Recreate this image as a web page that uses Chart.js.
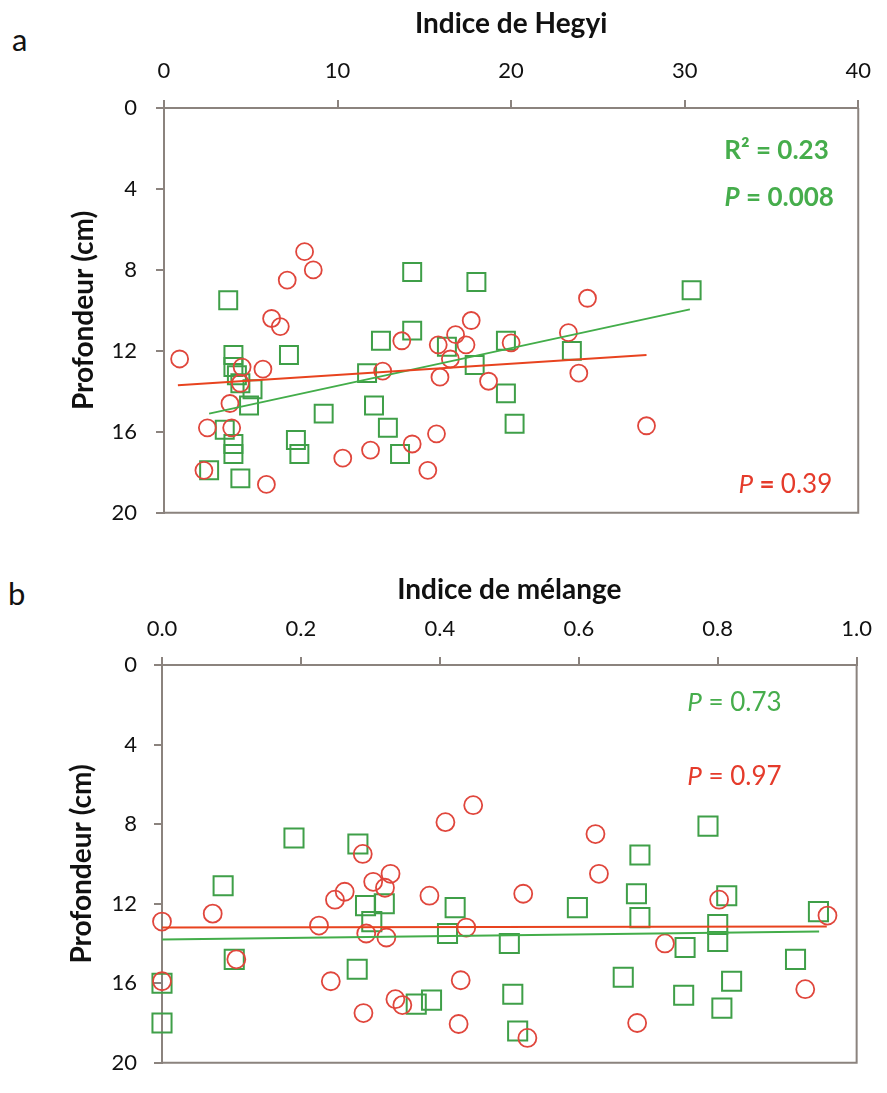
<!DOCTYPE html>
<html>
<head>
<meta charset="utf-8">
<script src="https://cdn.jsdelivr.net/npm/chart.js@4.4.1/dist/chart.umd.min.js"></script>
<style>
body { margin: 0; background: #fff; width: 887px; height: 1093px; position: relative; overflow: hidden; font-family: Lato, sans-serif; }
.panel { position: absolute; left: 0; width: 887px; }
.lbl { position: absolute; font-size: 31px; line-height: 31px; color: #111; }
</style>
</head>
<body>
<div class="lbl" style="left:12px;top:24px">a</div>
<div class="lbl" style="left:8px;top:578px">b</div>
<div class="panel" style="top:0;height:545px"><canvas id="chartA"></canvas></div>
<div class="panel" style="top:550px;height:543px"><canvas id="chartB"></canvas></div>
<script>
// panel a : Indice de Hegyi
var hegyiRedX = [0.9, 2.3, 2.5, 3.8, 3.9, 4.4, 4.5, 5.7, 5.9, 6.2, 6.7, 7.1, 8.1, 8.6, 10.3, 11.9, 12.6, 13.7, 14.3, 15.2, 15.7, 15.8, 15.9, 16.5, 16.8, 17.4, 17.7, 18.7, 20.0, 23.3, 23.9, 24.4, 27.8];
var hegyiRedY = [12.4, 17.9, 15.8, 14.6, 15.8, 13.6, 12.8, 12.9, 18.6, 10.4, 10.8, 8.5, 7.1, 8.0, 17.3, 16.9, 13.0, 11.5, 16.6, 17.9, 16.1, 11.7, 13.3, 12.4, 11.2, 11.7, 10.5, 13.5, 11.6, 11.1, 13.1, 9.4, 15.7];
var hegyiGreenX = [2.6, 3.5, 3.7, 4.0, 4.0, 4.0, 4.0, 4.2, 4.4, 4.4, 5.1, 4.9, 7.2, 7.6, 7.8, 9.2, 11.7, 12.1, 12.5, 12.9, 13.6, 14.3, 14.3, 16.3, 17.9, 18.0, 19.7, 19.7, 20.2, 23.5, 30.4];
var hegyiGreenY = [17.9, 15.9, 9.5, 12.2, 12.8, 16.6, 17.1, 13.2, 13.6, 18.3, 13.9, 14.7, 12.2, 16.4, 17.1, 15.1, 13.1, 14.7, 11.5, 15.8, 17.1, 8.1, 11.0, 11.8, 12.7, 8.6, 11.5, 14.1, 15.6, 12.0, 9.0];
var hegyiRedFitX = [0.8, 27.8];
var hegyiRedFitY = [13.7, 12.2];
var hegyiGreenFitX = [2.6, 30.3];
var hegyiGreenFitY = [15.1, 9.95];

// panel b : Indice de mélange
var melangeRedX = [0, 0.073, 0, 0.107, 0.289, 0.329, 0.304, 0.321, 0.263, 0.249, 0.226, 0.294, 0.323, 0.243, 0.336, 0.346, 0.290, 0.448, 0.408, 0.624, 0.629, 0.385, 0.520, 0.438, 0.430, 0.427, 0.526, 0.684, 0.802, 0.958, 0.724, 0.926];
var melangeRedY = [12.9, 12.5, 15.9, 14.8, 9.5, 10.5, 10.9, 11.2, 11.4, 11.8, 13.1, 13.5, 13.7, 15.9, 16.8, 17.1, 17.5, 7.05, 7.9, 8.5, 10.5, 11.6, 11.5, 13.2, 15.85, 18.05, 18.75, 18.0, 11.8, 12.6, 14.0, 16.3];
var melangeGreenX = [0.088, 0, 0, 0.104, 0.190, 0.282, 0.293, 0.320, 0.302, 0.281, 0.688, 0.683, 0.422, 0.598, 0.688, 0.411, 0.500, 0.664, 0.366, 0.388, 0.505, 0.512, 0.786, 0.813, 0.945, 0.800, 0.800, 0.753, 0.912, 0.820, 0.751, 0.806];
var melangeGreenY = [11.1, 16.0, 18.0, 14.8, 8.7, 9.0, 12.1, 12.0, 12.9, 15.3, 9.55, 11.5, 12.2, 12.2, 12.7, 13.5, 14.0, 15.7, 17.05, 16.85, 16.55, 18.4, 8.1, 11.6, 12.4, 13.05, 13.9, 14.2, 14.8, 15.9, 16.6, 17.25];
var melangeRedFitX = [0, 0.957];
var melangeRedFitY = [13.2, 13.15];
var melangeGreenFitX = [0, 0.946];
var melangeGreenFitY = [13.8, 13.4];

var depthTicks = [0, 4, 8, 12, 16, 20];

var FONT = 'Lato, "Open Sans", sans-serif';
var axisGray = '#8b837e';
var redPt = '#e0463c', greenPt = '#3f9f48';
var redLine = '#e8431f', greenLine = '#43ad4a';
var redTxt = '#e53b2b', greenTxt = '#46ad4c';

function pts(xs, ys) {
    return xs.map(function (x, i) { return {x: x, y: ys[i]}; });
}

var framePlugin = {
    id: 'frame',
    beforeDatasetsDraw: function (chart) {
        var ctx = chart.ctx, a = chart.chartArea;
        ctx.save();
        ctx.strokeStyle = axisGray;
        ctx.lineWidth = 2;
        ctx.beginPath();
        ctx.moveTo(a.left, a.bottom);
        ctx.lineTo(a.right, a.bottom);
        ctx.lineTo(a.right, a.top);
        ctx.stroke();
        ctx.restore();
    }
};

// stats text, right aligned at a data position
var notesPlugin = {
    id: 'notes',
    afterDatasetsDraw: function (chart, args, opts) {
        var ctx = chart.ctx;
        (opts.items || []).forEach(function (it) {
            var x = chart.scales.x.getPixelForValue(it.x);
            var y = chart.scales.y.getPixelForValue(it.y);
            ctx.save();
            ctx.textBaseline = 'middle';
            ctx.fillStyle = it.color;
            var total = 0;
            it.runs.forEach(function (r) { ctx.font = r[1]; total += ctx.measureText(r[0]).width; });
            var cx = x - total;
            it.runs.forEach(function (r) {
                ctx.font = r[1];
                ctx.fillText(r[0], cx, y);
                cx += ctx.measureText(r[0]).width;
            });
            ctx.restore();
        });
    }
};

function makeChart(id, c) {
    return new Chart(document.getElementById(id), {
        type: 'scatter',
        data: {
            datasets: [
                {data: pts(c.rfx, c.rfy), showLine: true, borderColor: redLine, borderWidth: 2, pointRadius: 0},
                {data: pts(c.gfx, c.gfy), showLine: true, borderColor: greenLine, borderWidth: 2, pointRadius: 0},
                {data: pts(c.rx, c.ry), pointStyle: 'circle', pointRadius: c.cr, borderColor: redPt, backgroundColor: 'rgba(0,0,0,0)', pointBorderWidth: 1.8, clip: false},
                {data: pts(c.gx, c.gy), pointStyle: 'rect', pointRadius: c.sr, borderColor: greenPt, backgroundColor: 'rgba(0,0,0,0)', pointBorderWidth: 2, clip: false}
            ]
        },
        options: {
            responsive: true,
            maintainAspectRatio: false,
            animation: false,
            layout: {padding: {left: 0, top: 0, right: c.padR, bottom: c.padB}},
            plugins: {
                legend: {display: false},
                tooltip: {enabled: false},
                notes: {items: c.notes}
            },
            scales: {
                x: {
                    type: 'linear',
                    position: 'top',
                    min: c.xmin, max: c.xmax,
                    afterFit: function (s) { s.height = c.top; },
                    ticks: {
                        stepSize: c.xstep, padding: c.xpad, color: '#111',
                        font: {family: FONT, size: 22},
                        callback: c.xfmt
                    },
                    grid: {drawOnChartArea: false, drawTicks: true, tickLength: 8, color: axisGray, lineWidth: 2},
                    border: {display: true, color: axisGray, width: 2},
                    title: {display: true, text: c.xtitle, color: '#111', padding: {top: c.xtp, bottom: 0}, font: {family: FONT, size: 28, weight: 'bold'}}
                },
                y: {
                    type: 'linear',
                    reverse: true,
                    min: 0, max: 20,
                    afterFit: function (s) { s.width = c.left; },
                    afterBuildTicks: function (s) { s.ticks = depthTicks.map(function (v) { return {value: v}; }); },
                    ticks: {padding: c.ypad, color: '#111', font: {family: FONT, size: 22}},
                    grid: {drawOnChartArea: false, drawTicks: true, tickLength: 8, color: axisGray, lineWidth: 2},
                    border: {display: true, color: axisGray, width: 2},
                    title: {display: true, text: 'Profondeur (cm)', color: '#111', padding: {top: c.ytp, bottom: 0}, font: {family: FONT, size: 28, weight: 'bold'}}
                }
            }
        },
        plugins: [framePlugin, notesPlugin]
    });
}

var B = 'bold 26px ' + FONT, BI = 'italic bold 26px ' + FONT;
var R = '26px ' + FONT, RI = 'italic 26px ' + FONT;

makeChart('chartA', {
    rx: hegyiRedX, ry: hegyiRedY, gx: hegyiGreenX, gy: hegyiGreenY,
    rfx: hegyiRedFitX, rfy: hegyiRedFitY, gfx: hegyiGreenFitX, gfy: hegyiGreenFitY,
    cr: 8.5, sr: 12.7,
    xmin: 0, xmax: 40, xstep: 10, xfmt: function (v) { return v; },
    xtitle: 'Indice de Hegyi',
    top: 108, left: 164, padR: 27, padB: 31,
    xpad: 16, ypad: 19, xtp: 7, ytp: 67,
    notes: [
        {x: 38.3, y: 2.1, color: greenTxt, runs: [['R² = 0.23', B]]},
        {x: 38.6, y: 4.45, color: greenTxt, runs: [['P', BI], [' = 0.008', B]]},
        {x: 38.5, y: 18.6, color: redTxt, runs: [['P', RI], [' = ', B], ['0.39', R]]}
    ]
});

makeChart('chartB', {
    rx: melangeRedX, ry: melangeRedY, gx: melangeGreenX, gy: melangeGreenY,
    rfx: melangeRedFitX, rfy: melangeRedFitY, gfx: melangeGreenFitX, gfy: melangeGreenFitY,
    cr: 9, sr: 13.5,
    xmin: 0, xmax: 1, xstep: 0.2, xfmt: function (v) { return v.toFixed(1); },
    xtitle: 'Indice de mélange',
    top: 115, left: 162, padR: 24, padB: 25,
    xpad: 15, ypad: 17, xtp: 23, ytp: 65,
    notes: [
        {x: 0.892, y: 1.9, color: greenTxt, runs: [['P', RI], [' = 0.73', R]]},
        {x: 0.892, y: 5.6, color: redTxt, runs: [['P', RI], [' = 0.97', R]]}
    ]
});
</script>
</body>
</html>
